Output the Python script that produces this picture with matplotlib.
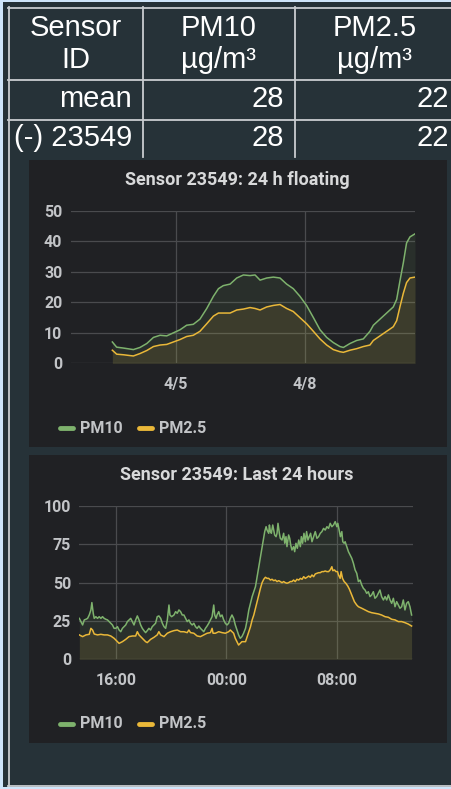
import matplotlib
matplotlib.use('Agg')
import matplotlib.pyplot as plt
from matplotlib.lines import Line2D
from matplotlib.patches import Rectangle

W, H = 452, 789

# ---- table data ----
col_labels = ['Sensor\nID', 'PM10\nµg/m³', 'PM2.5\nµg/m³']
row_names = ['mean', '(-) 23549']
pm10_vals = [28, 28]
pm25_vals = [22, 22]

# ---- chart 1: 24 h floating mean (x = hours since 4/5 00:00) ----
float_hours = [-35.3, -32.9, -29.1, -23.6, -19.9, -16.1, -12.4, -8.7, -5.0, -1.3,
               2.4, 6.1, 9.8, 13.5, 17.3, 21.0, 23.8, 26.5, 30.3, 34.0,
               37.7, 41.4, 44.2, 47.0, 50.7, 54.4, 58.1, 61.8, 65.5, 69.2,
               72.9, 76.7, 80.4, 84.1, 87.8, 91.5, 93.4, 97.1, 100.8, 104.5,
               108.2, 110.1, 113.8, 117.5, 121.2, 123.1, 124.9, 126.8, 128.6, 130.5,
               133.3]
float_pm10 = [7, 5.3, 5, 4.5, 5.2, 6.5, 8.5, 9.2, 9, 10,
              11, 12.5, 12.8, 14.5, 18, 22, 24.5, 25.5, 26, 28,
              29, 28.8, 29, 27.3, 28, 28.3, 28, 26, 24.5, 22,
              19, 15, 11, 8.5, 6.8, 5.5, 5.2, 6.5, 7.5, 8,
              10.5, 12.5, 14.5, 16.5, 18.5, 21, 27, 33, 39.5, 41.5,
              42.5]
float_pm25 = [4.3, 3, 2.8, 2.4, 3.2, 4.2, 5.5, 6, 6.2, 7,
              7.8, 8.8, 9.2, 10.5, 13, 15.5, 16.5, 16.5, 16.5, 17.5,
              17.8, 18.3, 18, 17.5, 18.5, 19, 19.3, 18, 17, 15,
              13, 10.5, 8, 6, 4.5, 3.8, 3.6, 4.3, 4.8, 5.5,
              6, 7.5, 9, 10.5, 12, 14, 18.5, 23, 26.5, 28,
              28.3]
float_ticks = [0, 72]
float_ticklabels = ['4/5', '4/8']

# ---- chart 2: last 24 hours (x = hours, 24 = midnight) ----
last_pm10_hours = [13.36, 13.48, 13.60, 13.72, 13.84, 13.96, 14.08, 14.20, 14.27, 14.37,
                   14.44, 14.56, 14.68, 14.80, 14.92, 15.04, 15.16, 15.28, 15.40, 15.52,
                   15.64, 15.76, 15.88, 16.00, 16.12, 16.24, 16.36, 16.48, 16.60, 16.72,
                   16.84, 16.96, 17.08, 17.20, 17.32, 17.44, 17.56, 17.68, 17.80, 17.92,
                   18.04, 18.16, 18.28, 18.40, 18.52, 18.64, 18.76, 18.88, 19.00, 19.12,
                   19.25, 19.37, 19.49, 19.61, 19.73, 19.85, 19.92, 20.04, 20.21, 20.33,
                   20.45, 20.57, 20.69, 20.81, 20.93, 21.05, 21.17, 21.29, 21.41, 21.53,
                   21.65, 21.77, 21.89, 22.01, 22.13, 22.25, 22.37, 22.49, 22.61, 22.73,
                   22.85, 22.97, 23.09, 23.16, 23.26, 23.33, 23.45, 23.57, 23.69, 23.81,
                   23.93, 24.05, 24.17, 24.29, 24.41, 24.53, 24.65, 24.77, 24.89, 25.01,
                   25.13, 25.25, 25.39, 25.51, 25.63, 25.75, 25.87, 25.99, 26.11, 26.23,
                   26.35, 26.47, 26.59, 26.71, 26.78, 26.88, 26.95, 27.07, 27.12, 27.19,
                   27.26, 27.36, 27.43, 27.50, 27.60, 27.67, 27.74, 27.84, 27.91, 28.03,
                   28.15, 28.23, 28.32, 28.39, 28.51, 28.59, 28.66, 28.75, 28.87, 28.95,
                   29.04, 29.14, 29.24, 29.36, 29.43, 29.52, 29.62, 29.72, 29.81, 29.91,
                   30.00, 30.10, 30.20, 30.32, 30.44, 30.56, 30.68, 30.80, 30.92, 31.04,
                   31.16, 31.28, 31.40, 31.52, 31.64, 31.76, 31.88, 32.00, 32.07, 32.17,
                   32.26, 32.36, 32.43, 32.53, 32.60, 32.72, 32.84, 32.96, 33.08, 33.20,
                   33.32, 33.44, 33.56, 33.68, 33.80, 33.92, 34.04, 34.16, 34.28, 34.40,
                   34.52, 34.64, 34.76, 34.88, 35.00, 35.12, 35.24, 35.37, 35.49, 35.61,
                   35.73, 35.85, 35.97, 36.09, 36.21, 36.33, 36.45, 36.57, 36.69, 36.81,
                   36.93, 37.05, 37.17, 37.29, 37.41]
last_pm10 = [26.7, 24.6, 22.4, 25.7, 26.1, 26.7, 28.9, 32.2, 37.0, 30.0,
             26.7, 27.8, 26.7, 27.8, 26.7, 27.8, 26.7, 26.1, 25.7, 24.6,
             23.5, 22.4, 20.2, 20.2, 21.3, 19.1, 18.0, 20.2, 21.3, 22.4,
             24.6, 25.7, 26.7, 24.6, 22.4, 25.7, 28.3, 25.7, 22.4, 20.2,
             18.7, 17.4, 18.7, 20.2, 19.1, 21.3, 22.4, 23.5, 27.8, 28.3,
             26.7, 23.5, 21.3, 20.2, 25.7, 35.4, 28.9, 27.8, 28.9, 31.1,
             30.0, 32.2, 31.1, 28.9, 28.9, 26.7, 24.6, 25.7, 23.5, 22.4,
             23.5, 21.3, 20.2, 21.7, 20.2, 19.1, 18.0, 20.2, 21.7, 23.5,
             25.7, 27.8, 35.4, 28.9, 26.7, 28.9, 31.1, 27.8, 28.9, 25.7,
             23.5, 22.4, 23.5, 26.7, 28.9, 26.7, 22.4, 19.1, 15.9, 13.7,
             14.8, 17.0, 20.2, 25.7, 32.2, 36.5, 40.9, 44.1, 47.4, 53.9,
             60.4, 67.0, 73.5, 80.0, 83.3, 86.5, 84.3, 82.2, 87.6, 83.3,
             82.2, 87.6, 84.3, 81.1, 80.0, 82.2, 88.7, 82.2, 78.9, 77.8,
             82.2, 75.7, 80.0, 73.5, 81.1, 78.9, 74.6, 71.3, 73.5, 70.2,
             75.7, 72.4, 77.8, 73.5, 80.0, 75.7, 82.2, 76.7, 83.3, 77.8,
             80.0, 82.2, 76.7, 80.0, 83.3, 78.9, 80.0, 82.2, 83.3, 85.4,
             84.3, 86.5, 85.4, 88.7, 86.5, 87.6, 89.8, 86.5, 88.7, 84.3,
             80.0, 83.3, 76.7, 75.7, 76.7, 73.5, 70.2, 68.0, 65.9, 62.6,
             58.3, 56.1, 50.7, 51.7, 48.5, 46.3, 45.2, 43.0, 44.1, 40.9,
             42.0, 44.1, 39.8, 40.9, 43.0, 45.2, 40.9, 38.7, 40.9, 38.7,
             42.0, 38.7, 36.5, 39.8, 34.3, 37.6, 35.4, 33.3, 34.3, 38.7,
             32.2, 36.5, 37.6, 34.3, 28.9]
last_pm25_hours = [13.36, 13.60, 13.84, 14.08, 14.20, 14.32, 14.44, 14.68, 14.92, 15.16,
                   15.40, 15.64, 15.88, 16.12, 16.24, 16.48, 16.72, 16.96, 17.20, 17.44,
                   17.56, 17.68, 17.92, 18.16, 18.28, 18.52, 18.76, 19.00, 19.12, 19.25,
                   19.49, 19.73, 19.97, 20.21, 20.45, 20.69, 20.93, 21.17, 21.29, 21.41,
                   21.65, 21.89, 22.13, 22.37, 22.61, 22.85, 22.97, 23.04, 23.21, 23.45,
                   23.69, 23.93, 24.17, 24.29, 24.41, 24.53, 24.65, 24.77, 24.89, 25.01,
                   25.13, 25.39, 25.51, 25.63, 25.75, 25.87, 25.99, 26.11, 26.23, 26.35,
                   26.47, 26.59, 26.71, 26.83, 26.95, 27.07, 27.19, 27.31, 27.43, 27.55,
                   27.67, 27.79, 27.91, 28.03, 28.15, 28.27, 28.39, 28.51, 28.63, 28.75,
                   28.87, 28.99, 29.11, 29.24, 29.36, 29.48, 29.60, 29.72, 29.84, 29.96,
                   30.08, 30.20, 30.32, 30.44, 30.56, 30.68, 30.80, 30.92, 31.04, 31.16,
                   31.28, 31.40, 31.52, 31.64, 31.71, 31.83, 31.93, 32.05, 32.12, 32.24,
                   32.31, 32.41, 32.53, 32.65, 32.79, 32.91, 33.03, 33.15, 33.27, 33.44,
                   33.56, 33.80, 34.04, 34.28, 34.52, 34.76, 35.00, 35.24, 35.49, 35.73,
                   35.97, 36.21, 36.45, 36.69, 36.93, 37.17, 37.41]
last_pm25 = [15.9, 14.8, 15.9, 16.3, 20.2, 19.1, 16.5, 15.9, 16.3, 15.9,
             15.9, 15.2, 13.7, 11.5, 10.4, 11.5, 13.0, 14.8, 15.2, 15.2,
             18.0, 15.9, 13.7, 11.5, 10.9, 13.0, 14.3, 15.9, 18.0, 15.9,
             14.8, 17.0, 18.0, 18.7, 19.1, 18.0, 18.0, 17.4, 19.1, 17.4,
             17.0, 15.2, 14.8, 15.9, 17.0, 17.4, 20.2, 17.0, 17.0, 18.0,
             17.4, 17.0, 18.0, 19.1, 18.0, 17.0, 13.7, 11.5, 9.3, 10.4,
             11.5, 11.5, 14.8, 18.0, 21.3, 25.7, 28.9, 33.3, 37.6, 42.0,
             46.3, 50.0, 52.2, 53.5, 52.8, 52.8, 51.7, 52.2, 51.3, 51.7,
             50.7, 51.3, 50.7, 50.0, 50.7, 50.0, 49.6, 50.0, 50.7, 50.7,
             51.7, 50.7, 52.2, 51.7, 52.8, 52.2, 53.9, 52.8, 53.5, 54.3,
             53.5, 55.0, 53.9, 55.7, 56.1, 56.5, 56.5, 57.2, 57.2, 57.6,
             57.2, 57.2, 58.3, 60.4, 57.8, 58.3, 57.2, 57.2, 55.0, 52.8,
             57.2, 52.8, 50.7, 49.6, 47.8, 45.7, 43.0, 40.4, 37.6, 35.4,
             34.3, 33.3, 32.2, 31.1, 30.4, 30.0, 29.6, 28.9, 27.8, 27.4,
             26.1, 25.7, 24.6, 24.6, 23.9, 23.0, 21.7]
last_ticks = [16, 24, 32]
last_ticklabels = ['16:00', '00:00', '08:00']

GREEN = '#7eb26d'
YELLOW = '#eab839'
PANEL = '#202124'
OUTER = '#263238'
LINE = '#c9cdd0'
TICKCOL = '#c2c4c7'


def fx(x):
    return x / W


def fy(y):
    return 1 - y / H


def rect(x0, y0, x1, y1):
    return [fx(x0), fy(y1), fx(x1) - fx(x0), fy(y0) - fy(y1)]


fig = plt.figure(figsize=(W / 100, H / 100), dpi=100)
fig.patch.set_facecolor('#cfe5fa')

# outer dark area
fig.add_artist(Rectangle((fx(3), fy(787)), fx(452) - fx(3), fy(2) - fy(787),
                         transform=fig.transFigure, facecolor=OUTER, edgecolor='none',
                         zorder=-10))


def hline(y, x0, x1):
    fig.add_artist(Line2D([fx(x0), fx(x1)], [fy(y), fy(y)], color=LINE, lw=1.3))


def vline(x, y0, y1):
    fig.add_artist(Line2D([fx(x), fx(x)], [fy(y0), fy(y1)], color=LINE, lw=1.3))


# table grid
hline(7.5, 8, 452)
hline(80, 8, 452)
hline(120, 8, 452)
hline(786, 8, 452)
vline(8.5, 7, 786)
vline(143, 7, 157)
vline(295, 7, 157)

tfont = dict(family=['Liberation Sans', 'DejaVu Sans'], fontsize=21, color='white')
col_centers = [76, 219, 375]
for cx, lab in zip(col_centers, col_labels):
    fig.text(fx(cx), fy(44), lab, ha='center', va='center', linespacing=1.2, **tfont)

row_y = [99, 138]
for ry, name, a, b in zip(row_y, row_names, pm10_vals, pm25_vals):
    fig.text(fx(132), fy(ry), name, ha='right', va='center', **tfont)
    fig.text(fx(284), fy(ry), str(a), ha='right', va='center', **tfont)
    fig.text(fx(449), fy(ry), str(b), ha='right', va='center', **tfont)


def draw_panel(py0, py1, ax_box, title, title_y, x10, y10, x25, y25,
               xlim, ylim, yticks, xticks, xlabels, legend_y):
    fig.add_artist(Rectangle((fx(29), fy(py1)), fx(447) - fx(29), fy(py0) - fy(py1),
                             transform=fig.transFigure, facecolor=PANEL, edgecolor='none',
                             zorder=-5))
    fig.text(fx(237), fy(title_y), title, ha='center', va='center', color='#d8d9da',
             fontsize=13, fontweight='bold', family='Roboto')
    ax = fig.add_axes(rect(*ax_box))
    ax.set_facecolor('none')
    ax.fill_between(x10, y10, 0, color=GREEN, alpha=0.1, lw=0)
    ax.fill_between(x25, y25, 0, color=YELLOW, alpha=0.1, lw=0)
    ax.plot(x10, y10, color=GREEN, lw=1.1)
    ax.plot(x25, y25, color=YELLOW, lw=1.1)
    ax.set_xlim(*xlim)
    ax.set_ylim(*ylim)
    ax.set_yticks(yticks)
    ax.set_xticks(xticks)
    ax.set_xticklabels(xlabels)
    for s in ax.spines.values():
        s.set_visible(False)
    ax.grid(True, color='#4a4b4e', lw=0.9)
    ax.set_axisbelow(True)
    ax.tick_params(length=0, colors=TICKCOL, labelsize=11.5)
    ax.tick_params(axis='y', pad=6)
    ax.tick_params(axis='x', pad=10)
    for lab in ax.get_xticklabels() + ax.get_yticklabels():
        lab.set_fontweight('bold')
        lab.set_family('Roboto')
    # legend
    for lx, col, txt in [(58, GREEN, 'PM10'), (137, YELLOW, 'PM2.5')]:
        fig.add_artist(Line2D([fx(lx + 2), fx(lx + 15)], [fy(legend_y), fy(legend_y)],
                              color=col, lw=3.5, solid_capstyle='round'))
        fig.text(fx(lx + 22), fy(legend_y), txt, ha='left', va='center', color=TICKCOL,
                 fontsize=11.5, fontweight='bold', family='Roboto')
    return ax


draw_panel(160, 447, (70.7, 211, 415, 363.3), 'Sensor 23549: 24 h floating', 180,
           float_hours, float_pm10, float_hours, float_pm25,
           (-58.5, 133.3), (0, 50), [0, 10, 20, 30, 40, 50],
           float_ticks, float_ticklabels, 428)

draw_panel(455, 743, (79.3, 506, 412.7, 659.3), 'Sensor 23549: Last 24 hours', 475,
           last_pm10_hours, last_pm10, last_pm25_hours, last_pm25,
           (13.36, 37.49), (0, 100), [0, 25, 50, 75, 100],
           last_ticks, last_ticklabels, 724)

fig.savefig('out.png', dpi=100, facecolor=fig.get_facecolor())
